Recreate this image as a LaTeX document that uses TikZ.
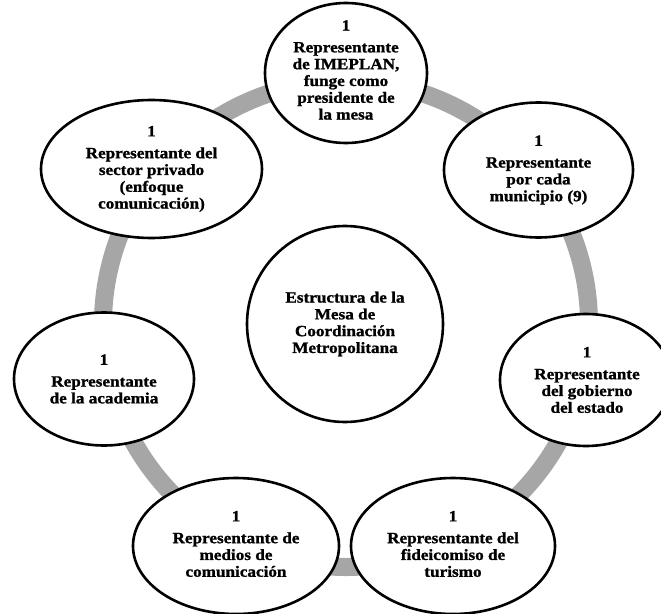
\documentclass[tikz,border=0pt]{standalone}
\usepackage{fontspec}
\setmainfont{Liberation Serif}[FakeStretch=1.1, BoldFeatures={FakeBold=1.2}]
\usetikzlibrary{shapes.geometric}
\definecolor{ringgray}{RGB}{166,166,166}
\begin{document}
\begin{tikzpicture}[x=1bp,y=-1bp,
  oval/.style={ellipse, draw=black, line width=2.6bp, fill=white, inner sep=0pt},
  lbl/.style={align=center, inner sep=0pt, font=\fontsize{15.6bp}{16.8bp}\selectfont\bfseries}]
\useasboundingbox (0,0) rectangle (661,614);
\fill[white] (0,0) rectangle (661,614);
\clip (0,0) rectangle (661,614);
% ring
\node[circle, draw=ringgray, line width=18bp, minimum size=486bp, inner sep=0pt] (ring) at (346,324) {};
% ellipses
\node[oval, minimum width=162bp, minimum height=140bp] (top) at (346,73) {};
\node[oval, minimum width=189bp, minimum height=135bp] (ur) at (538.5,170) {};
\node[oval, minimum width=172bp, minimum height=132bp] (rt) at (586,380) {};
\node[oval, minimum width=204bp, minimum height=136bp] (br) at (453,546) {};
\node[oval, minimum width=206bp, minimum height=136bp] (bl) at (236,546) {};
\node[oval, minimum width=180bp, minimum height=133bp] (lf) at (104,379) {};
\node[oval, minimum width=221bp, minimum height=138bp] (ul) at (151.5,169) {};
\node[oval, circle, minimum size=196bp] (ctr) at (345,324) {};
% texts
\node[lbl] (ttop) at ([yshift=3bp]top.center) {1\\[5bp]Representante\\de IMEPLAN,\\funge como\\presidente de\\la mesa};
\node[lbl] (tur) at (ur.center) {1\\[5bp]Representante\\por cada\\municipio (9)};
\node[lbl] (trt) at ([xshift=1bp]rt.center) {1\\[5bp]Representante\\del gobierno\\del estado};
\node[lbl] (tbr) at ([yshift=2bp]br.center) {1\\[5bp]Representante del\\fideicomiso de\\turismo};
\node[lbl] (tbl) at ([yshift=2bp]bl.center) {1\\[5bp]Representante de\\medios de\\comunicación};
\node[lbl] (tlf) at (lf.center) {1\\[5bp]Representante\\de la academia};
\node[lbl] (tul) at (ul.center) {1\\[5bp]Representante del\\sector privado\\(enfoque\\comunicación)};
\node[lbl] (tctr) at (ctr.center) {Estructura de la\\Mesa de\\Coordinación\\Metropolitana};
\end{tikzpicture}
\end{document}
